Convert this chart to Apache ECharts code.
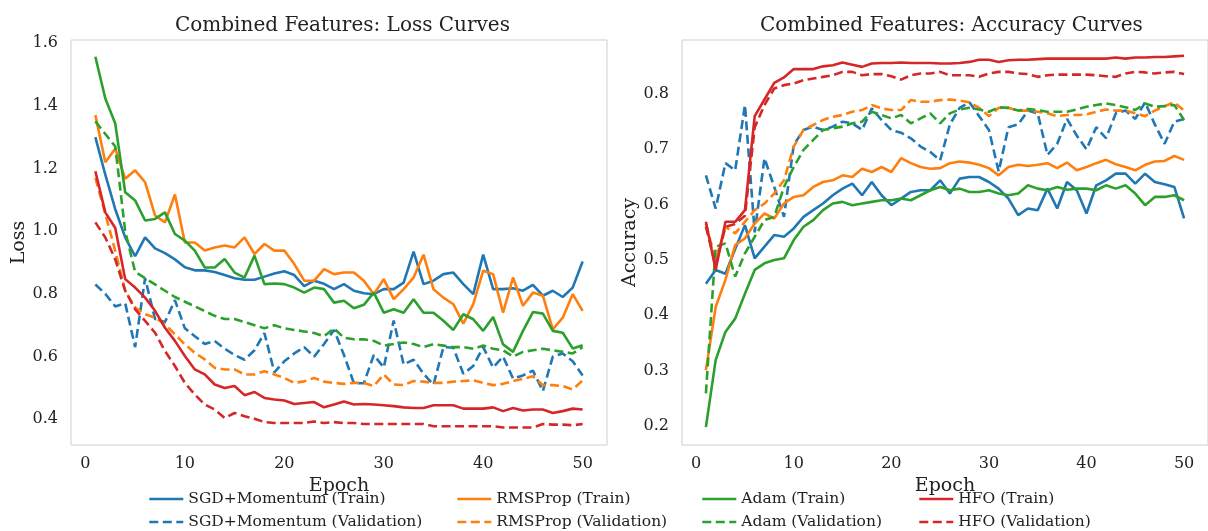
<!DOCTYPE html>
<html>
<head>
<meta charset="utf-8">
<script src="https://cdn.jsdelivr.net/npm/echarts@6/dist/echarts.min.js"></script>
<style>html,body{margin:0;padding:0;background:#fff;}#c{width:1208px;height:531px;}</style>
</head>
<body>
<div id="c"></div>
<script>
const epochs = [1,2,3,4,5,6,7,8,9,10,11,12,13,14,15,16,17,18,19,20,21,22,23,24,25,26,27,28,29,30,31,32,33,34,35,36,37,38,39,40,41,42,43,44,45,46,47,48,49,50];

const sgdTrainLoss = [1.30,1.18,1.07,0.98,0.92,0.98,0.945,0.93,0.91,0.885,0.875,0.875,0.87,0.86,0.85,0.845,0.845,0.855,0.865,0.872,0.86,0.825,0.842,0.832,0.815,0.831,0.81,0.802,0.799,0.815,0.815,0.836,0.935,0.831,0.842,0.863,0.868,0.831,0.799,0.925,0.815,0.815,0.818,0.81,0.829,0.794,0.81,0.79,0.82,0.903];
const sgdValLoss = [0.83,0.80,0.76,0.77,0.63,0.85,0.72,0.71,0.78,0.69,0.665,0.64,0.65,0.625,0.605,0.59,0.62,0.675,0.55,0.585,0.61,0.63,0.6,0.64,0.685,0.605,0.515,0.515,0.605,0.565,0.715,0.575,0.59,0.545,0.51,0.63,0.628,0.545,0.57,0.63,0.565,0.6,0.53,0.54,0.555,0.49,0.6,0.61,0.585,0.54];
const rmsTrainLoss = [1.37,1.22,1.263,1.167,1.194,1.156,1.05,1.028,1.117,0.964,0.964,0.938,0.948,0.954,0.948,0.98,0.927,0.959,0.938,0.938,0.895,0.842,0.842,0.879,0.863,0.868,0.868,0.842,0.799,0.847,0.783,0.815,0.852,0.925,0.815,0.788,0.767,0.705,0.767,0.874,0.863,0.74,0.852,0.762,0.804,0.794,0.687,0.724,0.799,0.746];
const rmsValLoss = [1.17,1.055,0.937,0.81,0.756,0.735,0.724,0.703,0.671,0.639,0.612,0.591,0.564,0.559,0.559,0.543,0.543,0.553,0.543,0.532,0.516,0.521,0.532,0.52,0.516,0.513,0.516,0.516,0.506,0.543,0.511,0.509,0.522,0.52,0.516,0.516,0.52,0.522,0.524,0.516,0.509,0.513,0.522,0.529,0.537,0.509,0.509,0.506,0.495,0.524];
const adamTrainLoss = [1.556,1.423,1.343,1.124,1.098,1.034,1.039,1.06,0.991,0.97,0.938,0.884,0.884,0.911,0.868,0.852,0.922,0.831,0.833,0.831,0.82,0.804,0.82,0.815,0.772,0.778,0.754,0.765,0.804,0.74,0.751,0.74,0.783,0.74,0.74,0.714,0.685,0.735,0.719,0.682,0.726,0.639,0.615,0.682,0.742,0.737,0.682,0.676,0.626,0.636];
const adamValLoss = [1.35,1.31,1.27,1.0,0.87,0.85,0.83,0.81,0.79,0.775,0.76,0.745,0.73,0.72,0.72,0.71,0.70,0.69,0.70,0.69,0.685,0.68,0.675,0.665,0.69,0.66,0.655,0.655,0.65,0.635,0.64,0.645,0.64,0.63,0.64,0.635,0.63,0.63,0.625,0.635,0.625,0.62,0.60,0.615,0.62,0.625,0.62,0.615,0.61,0.63];
const hfoTrainLoss = [1.191,1.06,1.01,0.847,0.82,0.788,0.746,0.692,0.65,0.602,0.559,0.543,0.511,0.5,0.506,0.477,0.487,0.468,0.463,0.46,0.449,0.452,0.455,0.438,0.447,0.457,0.447,0.449,0.447,0.445,0.442,0.438,0.436,0.436,0.445,0.445,0.445,0.434,0.434,0.434,0.438,0.426,0.436,0.428,0.431,0.431,0.42,0.426,0.434,0.431];
const hfoValLoss = [1.028,0.98,0.91,0.81,0.751,0.714,0.676,0.618,0.57,0.516,0.479,0.447,0.431,0.404,0.42,0.41,0.402,0.391,0.388,0.388,0.388,0.388,0.393,0.388,0.391,0.388,0.388,0.385,0.385,0.385,0.385,0.385,0.385,0.385,0.378,0.378,0.378,0.378,0.378,0.378,0.378,0.374,0.374,0.374,0.374,0.385,0.383,0.383,0.381,0.385];

const sgdTrainAcc = [0.457,0.482,0.475,0.52,0.563,0.503,0.524,0.545,0.542,0.557,0.578,0.59,0.602,0.617,0.629,0.638,0.617,0.641,0.617,0.599,0.611,0.623,0.626,0.626,0.644,0.62,0.647,0.65,0.65,0.641,0.629,0.611,0.581,0.593,0.59,0.629,0.593,0.641,0.626,0.584,0.635,0.644,0.656,0.656,0.638,0.656,0.641,0.637,0.632,0.575];
const sgdValAcc = [0.653,0.593,0.675,0.662,0.78,0.55,0.684,0.632,0.578,0.708,0.735,0.741,0.735,0.741,0.75,0.747,0.735,0.774,0.753,0.735,0.73,0.72,0.705,0.695,0.68,0.745,0.775,0.785,0.76,0.735,0.66,0.74,0.745,0.77,0.765,0.69,0.71,0.755,0.725,0.70,0.74,0.72,0.765,0.77,0.755,0.785,0.745,0.71,0.75,0.755];
const rmsTrainAcc = [0.301,0.415,0.464,0.527,0.539,0.566,0.584,0.575,0.602,0.614,0.617,0.632,0.641,0.644,0.653,0.65,0.665,0.659,0.668,0.659,0.684,0.675,0.668,0.665,0.666,0.675,0.678,0.676,0.672,0.666,0.653,0.668,0.672,0.67,0.672,0.675,0.666,0.676,0.662,0.668,0.675,0.681,0.673,0.668,0.662,0.672,0.678,0.679,0.688,0.681];
const rmsValAcc = [0.565,0.50,0.56,0.548,0.569,0.59,0.602,0.62,0.644,0.705,0.735,0.744,0.753,0.759,0.762,0.768,0.771,0.78,0.774,0.771,0.771,0.789,0.786,0.786,0.789,0.79,0.788,0.785,0.775,0.76,0.775,0.775,0.77,0.77,0.768,0.765,0.76,0.762,0.762,0.763,0.768,0.772,0.77,0.77,0.765,0.76,0.77,0.778,0.785,0.77];
const adamTrainAcc = [0.198,0.319,0.37,0.394,0.439,0.482,0.494,0.5,0.503,0.536,0.56,0.572,0.59,0.602,0.605,0.599,0.602,0.605,0.608,0.608,0.611,0.608,0.617,0.626,0.632,0.626,0.629,0.623,0.623,0.626,0.62,0.617,0.62,0.635,0.629,0.626,0.632,0.627,0.629,0.629,0.626,0.635,0.629,0.635,0.62,0.599,0.614,0.614,0.617,0.608];
const adamValAcc = [0.259,0.524,0.53,0.47,0.512,0.542,0.572,0.578,0.632,0.668,0.699,0.717,0.735,0.738,0.741,0.747,0.75,0.768,0.762,0.756,0.762,0.747,0.756,0.765,0.747,0.765,0.772,0.775,0.772,0.768,0.776,0.775,0.77,0.773,0.771,0.768,0.768,0.768,0.772,0.777,0.78,0.783,0.78,0.776,0.771,0.783,0.777,0.778,0.78,0.753];
const hfoTrainAcc = [0.569,0.482,0.569,0.569,0.59,0.76,0.79,0.82,0.83,0.845,0.845,0.845,0.85,0.852,0.857,0.853,0.849,0.855,0.856,0.856,0.857,0.856,0.856,0.856,0.855,0.855,0.856,0.858,0.862,0.862,0.858,0.861,0.862,0.862,0.863,0.864,0.864,0.864,0.864,0.864,0.864,0.864,0.866,0.864,0.866,0.866,0.867,0.867,0.868,0.869];
const hfoValAcc = [0.56,0.49,0.56,0.565,0.58,0.74,0.78,0.81,0.816,0.819,0.825,0.828,0.831,0.834,0.84,0.84,0.834,0.836,0.836,0.832,0.826,0.834,0.837,0.837,0.84,0.834,0.834,0.834,0.831,0.837,0.84,0.84,0.837,0.836,0.831,0.834,0.835,0.835,0.835,0.835,0.834,0.832,0.831,0.837,0.84,0.839,0.837,0.839,0.84,0.836];

const xTicks = [0,10,20,30,40,50];
const lossTicks = [0.4,0.6,0.8,1.0,1.2,1.4,1.6];
const accTicks = [0.2,0.3,0.4,0.5,0.6,0.7,0.8];

const optimizers = [
  {name:'SGD+Momentum', color:'#1f77b4', loss:[sgdTrainLoss, sgdValLoss], acc:[sgdTrainAcc, sgdValAcc]},
  {name:'RMSProp', color:'#ff7f0e', loss:[rmsTrainLoss, rmsValLoss], acc:[rmsTrainAcc, rmsValAcc]},
  {name:'Adam', color:'#2ca02c', loss:[adamTrainLoss, adamValLoss], acc:[adamTrainAcc, adamValAcc]},
  {name:'HFO', color:'#d62728', loss:[hfoTrainLoss, hfoValLoss], acc:[hfoTrainAcc, hfoValAcc]}
];
const kinds = ['Train','Validation'];

const FONT = 'DejaVu Serif';
const TXT = '#222';
const DASH = [9, 4.5];

function pairs(vals){ return epochs.map((e,i)=>[e, vals[i]]); }

const series = [];
[0,1].forEach(gi => {
  optimizers.forEach(o => {
    const arrs = gi === 0 ? o.loss : o.acc;
    kinds.forEach((kind, k) => {
      series.push({
        name: o.name + ' (' + kind + ')',
        type: 'line',
        xAxisIndex: gi, yAxisIndex: gi,
        data: pairs(arrs[k]),
        showSymbol: false, symbol: 'none',
        lineStyle: {color: o.color, width: 2.6, type: k === 0 ? 'solid' : DASH},
        itemStyle: {color: o.color},
        animation: false
      });
    });
  });
});

function xAx(gi){
  return {
    type:'value', gridIndex: gi, min:-1.45, max:52.45,
    name:'Epoch', nameLocation:'middle', nameGap:27,
    nameTextStyle:{fontFamily:FONT, fontSize:19, color:TXT},
    axisLine:{show:false}, axisTick:{show:false}, splitLine:{show:false},
    axisLabel:{customValues:xTicks, fontFamily:FONT, fontSize:16, color:TXT, margin:11,
      formatter: v => String(Math.round(v))}
  };
}
function yAx(gi, name, lo, hi, ticks, gap){
  return {
    type:'value', gridIndex: gi, min: lo, max: hi,
    name:name, nameLocation:'middle', nameGap:gap, nameRotate:90,
    nameTextStyle:{fontFamily:FONT, fontSize:19, color:TXT},
    axisLine:{show:false}, axisTick:{show:false}, splitLine:{show:false},
    axisLabel:{customValues:ticks, fontFamily:FONT, fontSize:16, color:TXT, margin:13,
      formatter: v => v.toFixed(1)}
  };
}

const legendCols = [143, 451, 696, 913];
const legendRows = [486, 509];
const legends = [];
optimizers.forEach((o, i) => {
  kinds.forEach((kind, k) => {
    legends.push({
      left: legendCols[i], top: legendRows[k],
      itemWidth: 34, itemHeight: 14,
      data:[o.name + ' (' + kind + ')'],
      itemStyle:{opacity:0},
      lineStyle:{width:2.6},
      textStyle:{fontFamily:FONT, fontSize:15.5, color:TXT}
    });
  });
});

const option = {
  backgroundColor:'#ffffff',
  animation:false,
  grid:[
    {left:71, top:40, width:536, height:405, show:true, borderColor:'#cfcfcf', borderWidth:1, backgroundColor:'transparent'},
    {left:682, top:40, width:536, height:405, show:true, borderColor:'#cfcfcf', borderWidth:1, backgroundColor:'transparent'}
  ],
  xAxis:[xAx(0), xAx(1)],
  yAxis:[yAx(0,'Loss',0.318,1.6096,lossTicks,40), yAx(1,'Accuracy',0.1656,0.8976,accTicks,40)],
  legend: legends,
  graphic:[
    {type:'text', left:339 - 164, top:16, style:{text:'Combined Features: Loss Curves', font:'20px "DejaVu Serif"', fill:TXT}},
    {type:'text', left:946 - 186, top:16, style:{text:'Combined Features: Accuracy Curves', font:'20px "DejaVu Serif"', fill:TXT}}
  ],
  series: series
};

const chart = echarts.init(document.getElementById('c'), null, {renderer:'canvas'});
chart.setOption(option);
</script>
</body>
</html>
